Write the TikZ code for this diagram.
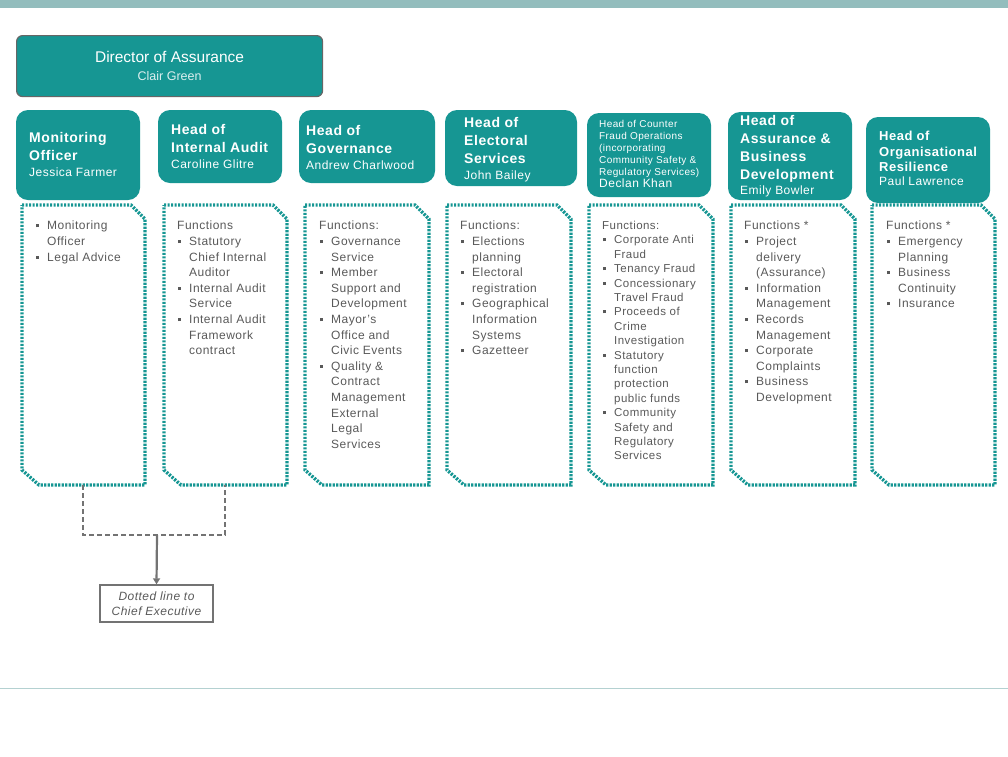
\documentclass[tikz,border=0pt]{standalone}
\usepackage{fontspec}
\setmainfont{Liberation Sans}[LetterSpace=4]
\newfontfamily\plainsans{Liberation Sans}
\usetikzlibrary{arrows.meta}
\definecolor{teal1}{HTML}{169693}
\definecolor{txtg}{HTML}{595959}
\definecolor{barc}{HTML}{93BDBD}
\begin{document}
\begin{tikzpicture}[x=1pt,y=-1pt,
  ht/.style={anchor=north west,inner sep=0pt,align=left,text=white,font=\fontsize{14}{18}\selectfont\bfseries},
  ft/.style={anchor=north west,inner sep=0pt,align=left,text=txtg,font=\fontsize{12}{15.6}\selectfont},
  fb/.style={draw=teal1,line width=3.4pt,dash pattern=on 2.2pt off 1.3pt}]
\useasboundingbox (0,0) rectangle (1008,756);
\fill[barc] (0,0) rectangle (1008,8);
\draw[barc!70,line width=0.8pt] (0,688) -- (1008,688);
% Director
\node[fill=teal1,draw=gray!80!black,line width=1.2pt,rounded corners=6pt,minimum width=306pt,minimum height=61pt,anchor=north west,align=center,text=white,font=\plainsans\fontsize{15.5}{18}\selectfont] (dir) at (16,35)
 {Director of Assurance\\{\fontsize{12.5}{15}\selectfont\color{white!85!teal1}Clair Green}};
% header boxes
\foreach \l/\t/\r/\b in {16/110/140/200,158/110/282/183,299/110/435/183,445/110/577/186,587/113/711/197,728/112/852/200,866/117/990/203}{
  \fill[teal1,rounded corners=12pt] (\l,\t) rectangle (\r,\b);
}
\node[ht] (t1) at (29,132) {Monitoring\\Officer\\[-2pt]\fontsize{12}{15}\selectfont\mdseries Jessica Farmer};
\node[ht] (t2) at (171,124) {Head of\\Internal Audit\\[-2pt]\fontsize{12}{15}\selectfont\mdseries Caroline Glitre};
\node[ht] (t3) at (306,125) {Head of\\Governance\\[-2pt]\fontsize{12}{15}\selectfont\mdseries Andrew Charlwood};
\node[ht] (t4) at (464,117) {Head of\\Electoral\\Services\\[-2pt]\fontsize{12}{15}\selectfont\mdseries John Bailey};
\node[ht,font=\fontsize{10}{12}\selectfont] (t5) at (599,120) {Head of Counter\\Fraud Operations\\(incorporating\\Community Safety \&\\Regulatory Services)\\[0pt]\fontsize{12}{15}\selectfont Declan Khan};
\node[ht] (t6) at (740,115) {Head of\\Assurance \&\\Business\\Development\\[-3pt]\fontsize{12}{15}\selectfont\mdseries Emily Bowler};
\node[ht,font=\fontsize{13}{15.5}\selectfont\bfseries] (t7) at (879,131) {Head of\\Organisational\\Resilience\\[-2pt]\fontsize{12}{15}\selectfont\mdseries Paul Lawrence};
% function boxes
\foreach \l/\r in {22/145,164/287,305/429,447/571,589/713,731/855,872/995}{
  \draw[fb] (\l,205) -- (\r-14,205) -- (\r,219) -- (\r,485) -- (\l+17,485) -- (\l,470) -- cycle;
}
\coordinate (f1b) at (83,485);
\coordinate (f2b) at (225,485);
\newcommand\bl{\makebox[12pt][l]{\hspace{1pt}\raisebox{2.5pt}{\rule{3pt}{3pt}}}}
\newcommand\ind{\hspace*{12pt}}
\node[ft] (x1) at (35,221) {\bl Monitoring\\\ind Officer\\\bl Legal Advice};
\node[ft] (x2) at (177,221) {Functions\\\bl Statutory\\\ind Chief Internal\\\ind Auditor\\\bl Internal Audit\\\ind Service\\\bl Internal Audit\\\ind Framework\\\ind contract};
\node[ft] (x3) at (319,221) {Functions:\\\bl Governance\\\ind Service\\\bl Member\\\ind Support and\\\ind Development\\\bl Mayor's\\\ind Office and\\\ind Civic Events\\\bl Quality \&\\\ind Contract\\\ind Management\\\ind External\\\ind Legal\\\ind Services};
\node[ft] (x4) at (460,221) {Functions:\\\bl Elections\\\ind planning\\\bl Electoral\\\ind registration\\\bl Geographical\\\ind Information\\\ind Systems\\\bl Gazetteer};
\node[ft,font=\fontsize{11.5}{14.4}\selectfont] (x5) at (602,221) {Functions:\\\bl Corporate Anti\\\ind Fraud\\\bl Tenancy Fraud\\\bl Concessionary\\\ind Travel Fraud\\\bl Proceeds of\\\ind Crime\\\ind Investigation\\\bl Statutory\\\ind function\\\ind protection\\\ind public funds\\\bl Community\\\ind Safety and\\\ind Regulatory\\\ind Services};
\node[ft] (x6) at (744,221) {Functions *\\\bl Project\\\ind delivery\\\ind (Assurance)\\\bl Information\\\ind Management\\\bl Records\\\ind Management\\\bl Corporate\\\ind Complaints\\\bl Business\\\ind Development};
\node[ft] (x7) at (886,221) {Functions *\\\bl Emergency\\\ind Planning\\\bl Business\\\ind Continuity\\\bl Insurance};
% dotted line
\node[draw=gray!90!black,line width=1.4pt,minimum width=113pt,minimum height=37pt,align=center,text=txtg,font=\fontsize{12}{15}\selectfont\itshape] (ce) at (156.5,603.5) {Dotted line to\\Chief Executive};
\coordinate (j) at (157,535);
\draw[gray!90!black,line width=1.8pt,dash pattern=on 5pt off 3pt] (f1b) |- (j) -| (f2b);
\draw[gray!90!black,line width=2.2pt,-{Triangle[length=6pt,width=7pt]}] (j) -- (ce.north);
\end{tikzpicture}
\end{document}
